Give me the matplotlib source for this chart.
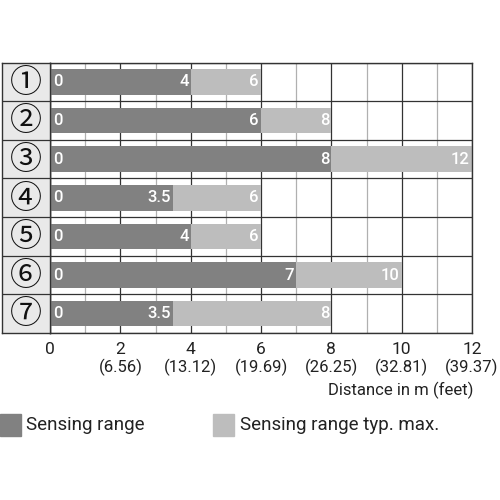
import matplotlib
matplotlib.use("Agg")
import matplotlib.pyplot as plt
from matplotlib.patches import Rectangle

categories = ['①', '②', '③', '④', '⑤', '⑥', '⑦']
sensing = [4, 6, 8, 3.5, 4, 7, 3.5]
typ_max = [6, 8, 12, 6, 6, 10, 8]
ticks_m = [0, 2, 4, 6, 8, 10, 12]
ticks_ft = ['', '(6.56)', '(13.12)', '(19.69)', '(26.25)', '(32.81)', '(39.37)']
xlabel = 'Distance in m (feet)'
legend_labels = ['Sensing range', 'Sensing range typ. max.']

DARK = '#818181'
LIGHT = '#bdbdbd'
FONT = ['Roboto', 'DejaVu Sans']
plt.rcParams['font.family'] = FONT

fig = plt.figure(figsize=(5, 5), dpi=100)
W, H = 500, 500
L, R, T, B = 50, 472, 62.5, 333
ax = fig.add_axes([L / W, 1 - B / H, (R - L) / W, (B - T) / H])
n = len(categories)
ax.set_xlim(0, 12)
ax.set_ylim(n, 0)

# grid
for x in range(0, 13):
    if x % 2 == 0:
        ax.axvline(x, color='#333333', lw=0.9, zorder=1)
    else:
        ax.axvline(x, color='#b0b0b0', lw=0.9, zorder=1)
for y in range(0, n + 1):
    ax.axhline(y, color='#333333', lw=0.9, zorder=1)

ys = [i + 0.5 for i in range(n)]
bh = 0.66
ax.barh(ys, typ_max, height=bh, color=LIGHT, zorder=2)
ax.barh(ys, sensing, height=bh, color=DARK, zorder=3)

def fmt(v):
    return f'{v:g}'

lab_kw = dict(color='white', fontsize=12, va='center', zorder=4, fontweight='medium')
for y, s, m in zip(ys, sensing, typ_max):
    ax.text(0.09, y, '0', ha='left', **lab_kw)
    ax.text(s - 0.06, y, fmt(s), ha='right', **lab_kw)
    ax.text(m - 0.06, y, fmt(m), ha='right', **lab_kw)

for sp in ax.spines.values():
    sp.set_color('#333333')
    sp.set_linewidth(1.0)
ax.set_xticks([])
ax.set_yticks([])

for t, f in zip(ticks_m, ticks_ft):
    ax.text(t, n + 0.42, str(t), ha='center', va='center', fontsize=12.5, color='#222222', clip_on=False)
    if f:
        ax.text(t, n + 0.9, f, ha='center', va='center', fontsize=12, color='#222222', clip_on=False)
ax.text(12.05, n + 1.48, xlabel, ha='right', va='center', fontsize=12, color='#222222', clip_on=False)

# label column
lax = fig.add_axes([1.5 / W, 1 - B / H, (L - 1.5) / W, (B - T) / H])
lax.set_xlim(0, 1)
lax.set_ylim(n, 0)
lax.set_facecolor('#e9e9e9')
for y in range(1, n):
    lax.axhline(y, color='#333333', lw=0.9)
for y, c in zip(ys, categories):
    lax.text(0.5, y + 0.02, c, ha='center', va='center', fontsize=23, color='#111111',
             family=['Noto Sans CJK JP', 'DejaVu Sans'])
for sp in lax.spines.values():
    sp.set_color('#333333')
    sp.set_linewidth(1.0)
lax.set_xticks([])
lax.set_yticks([])

# legend
fig.patches.append(Rectangle((0 / W, 1 - 436 / H), 21 / W, 22 / H, transform=fig.transFigure,
                             color=DARK, figure=fig))
fig.text(26 / W, 1 - 425 / H, legend_labels[0], ha='left', va='center', fontsize=13.5, color='#222222')
fig.patches.append(Rectangle((213 / W, 1 - 436 / H), 21 / W, 22 / H, transform=fig.transFigure,
                             color=LIGHT, figure=fig))
fig.text(240 / W, 1 - 425 / H, legend_labels[1], ha='left', va='center', fontsize=13.5, color='#222222')

fig.savefig('out.png', dpi=100, facecolor='white')
